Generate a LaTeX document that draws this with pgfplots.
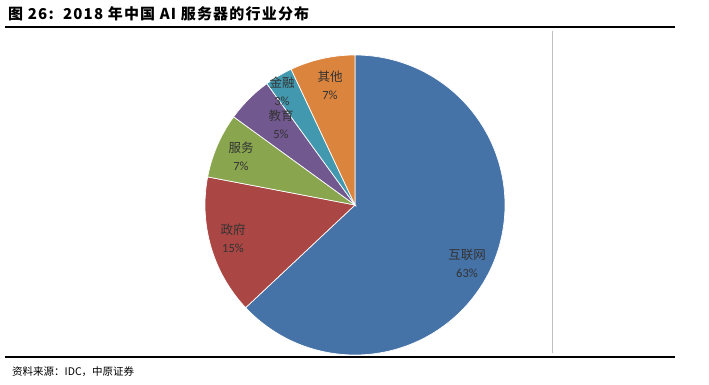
\documentclass[border=0pt]{standalone}
\usepackage{pgfplots}
\pgfplotsset{compat=1.18}
\usepackage{fontspec}
\setmainfont{Liberation Sans}
\newfontfamily\cjk{Noto Sans CJK SC}
\newfontfamily\cjkt[LetterSpace=8]{Noto Sans CJK SC}
\newfontfamily\num{Carlito}
\definecolor{cBlue}{HTML}{4572A7}
\definecolor{cRed}{HTML}{AA4643}
\definecolor{cGreen}{HTML}{89A54E}
\definecolor{cPurple}{HTML}{71588F}
\definecolor{cTeal}{HTML}{4198AF}
\definecolor{cOrange}{HTML}{DB843D}
\definecolor{lbl}{HTML}{333333}
\begin{document}
\begin{tikzpicture}
\begin{axis}[width=709pt,height=385pt,scale only axis,
  xmin=0,xmax=709,ymin=0,ymax=385,hide axis,clip=false]
\path (axis cs:0,0) rectangle (axis cs:709,385);
% slices: 互联网 63, 政府 15, 服务 7, 教育 5, 金融 3, 其他 7 (clockwise from top)
\addplot[fill=cBlue,draw=white,line width=0.7pt,domain={90-3.6*63}:90,samples=150,variable=\t] ({355+150*cos(\t)},{180+150*sin(\t)}) -- (axis cs:355,180) -- cycle;
\addplot[fill=cRed,draw=white,line width=0.7pt,domain={90-3.6*78}:{90-3.6*63},samples=40,variable=\t] ({355+150*cos(\t)},{180+150*sin(\t)}) -- (axis cs:355,180) -- cycle;
\addplot[fill=cGreen,draw=white,line width=0.7pt,domain={90-3.6*85}:{90-3.6*78},samples=30,variable=\t] ({355+150*cos(\t)},{180+150*sin(\t)}) -- (axis cs:355,180) -- cycle;
\addplot[fill=cPurple,draw=white,line width=0.7pt,domain={90-3.6*90}:{90-3.6*85},samples=30,variable=\t] ({355+150*cos(\t)},{180+150*sin(\t)}) -- (axis cs:355,180) -- cycle;
\addplot[fill=cTeal,draw=white,line width=0.7pt,domain={90-3.6*93}:{90-3.6*90},samples=20,variable=\t] ({355+150*cos(\t)},{180+150*sin(\t)}) -- (axis cs:355,180) -- cycle;
\addplot[fill=cOrange,draw=white,line width=0.7pt,domain={90-3.6*100}:{90-3.6*93},samples=30,variable=\t] ({355+150*cos(\t)},{180+150*sin(\t)}) -- (axis cs:355,180) -- cycle;
% labels
\begin{scope}[every node/.style={text=lbl,align=center,font=\fontsize{12.5}{18}\selectfont}]
\node at (axis cs:330,300) {{\cjk 其他}\\{\num 7\%}};
\node at (axis cs:282,294) {{\cjk 金融}\\{\num 3\%}};
\node at (axis cs:281,261) {{\cjk 教育}\\{\num 5\%}};
\node at (axis cs:241,229) {{\cjk 服务}\\{\num 7\%}};
\node at (axis cs:233,147) {{\cjk 政府}\\{\num 15\%}};
\node at (axis cs:467,122) {{\cjk 互联网}\\{\num 63\%}};
\end{scope}
% frame lines
\draw[black,line width=2pt] (axis cs:5,357.5) -- (axis cs:675,357.5);
\draw[black,line width=2pt] (axis cs:5,27.5) -- (axis cs:675,27.5);
\draw[black!25,line width=0.8pt] (axis cs:552,354) -- (axis cs:552,32);
\node[anchor=west,inner sep=0pt,font=\fontsize{15}{16}\selectfont\bfseries] at (axis cs:8,371) {\cjkt 图 26:\ \ 2018 年中国 AI 服务器的行业分布};
\node[anchor=west,inner sep=0pt,font=\fontsize{10.5}{13}\selectfont] at (axis cs:12,13) {\cjk 资料来源：IDC，中原证券};
\end{axis}
\end{tikzpicture}
\end{document}
